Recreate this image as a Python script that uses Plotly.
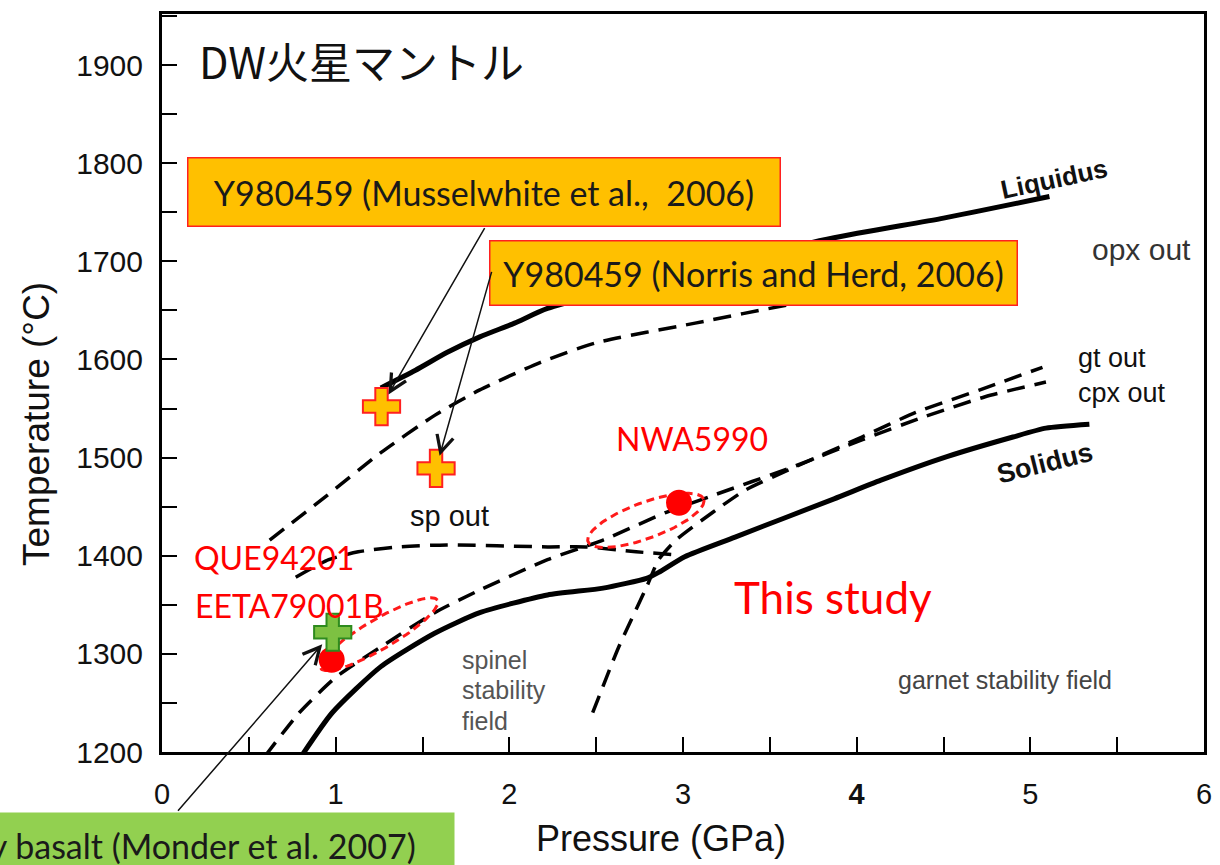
import numpy as np
import plotly.graph_objects as go

# ---------------- data (Pressure in GPa, Temperature in °C) ----------------
solidus_p = [0.80, 0.98, 1.26, 1.57, 1.83, 2.22, 2.54, 2.79, 2.86, 3.01, 3.30, 3.87, 4.14, 4.52, 4.90, 5.09, 5.34]
solidus_t = [1195, 1240, 1287, 1321, 1342, 1360, 1367, 1377, 1383, 1399, 1419, 1458, 1477, 1501, 1521, 1530, 1534]

liquidus_p = [1.26, 1.46, 1.64, 1.83, 2.03, 2.22, 3.07, 3.87, 4.50, 5.11]
liquidus_t = [1571, 1589, 1607, 1623, 1637, 1652, 1691, 1724, 1744, 1766]

opx_out_p = [0.62, 0.94, 1.26, 1.57, 1.83, 2.18, 2.50, 3.07, 3.62, 4.21, 4.78]
opx_out_t = [1416, 1460, 1505, 1543, 1569, 1597, 1617, 1637, 1656, 1671, 1683]

sp_out_p = [0.77, 0.96, 1.13, 1.36, 1.64, 2.22, 2.44, 2.73, 2.96]
sp_out_t = [1378, 1396, 1404, 1409, 1411, 1409, 1409, 1404, 1401]

cpx_out_p = [0.59, 0.79, 1.00, 1.26, 1.57, 1.83, 2.22, 2.54, 2.90, 3.15, 3.64, 4.03, 4.38, 4.74, 5.09]
cpx_out_t = [1195, 1240, 1276, 1307, 1342, 1365, 1396, 1416, 1444, 1460, 1491, 1518, 1541, 1562, 1577]

gt_out_p = [2.48, 2.63, 2.79, 2.86, 2.96, 3.17, 3.36, 3.64, 4.03, 4.34, 4.71, 5.07]
gt_out_t = [1240, 1307, 1368, 1396, 1416, 1444, 1467, 1490, 1521, 1546, 1569, 1592]

# Samples
y98_names = ["Y980459 (Musselwhite et al.,  2006)", "Y980459 (Norris and Herd, 2006)"]
y98_p = [1.264, 1.578]
y98_t = [1552, 1489]

humphrey_name = "Humphrey basalt (Monder et al. 2007)"
humphrey_p = [0.983]
humphrey_t = [1322]

study_names = ["QUE94201 / EETA79001B", "NWA5990"]
study_p = [0.977, 2.977]
study_t = [1294, 1454]

# Ranges of this study (red dashed ellipses): centres
ell_center_p = [1.250, 2.786]
ell_center_t = [1320, 1436]

x_tick_vals = [0, 1, 2, 3, 4, 5, 6]
x_tick_text = ["0", "1", "2", "3", "<b>4</b>", "5", "6"]
y_tick_vals = [1200, 1300, 1400, 1500, 1600, 1700, 1800, 1900]

# ---------------- layout geometry ----------------
W, H = 1220, 865
ML, MR, MT, MB = 162, 8, 14, 113
XR = [0, 6]
YR = [1200, 1952]
PW, PH = W - ML - MR, H - MT - MB
px_per_p = PW / (XR[1] - XR[0])
px_per_t = PH / (YR[1] - YR[0])

def paper_x(px):
    return (px - ML) / PW

def paper_y(py):
    return (H - MB - py) / PH

ell_semi_a = [68, 62]   # px
ell_semi_b = [15, 18]   # px
ell_tilt = [30, 20]     # degrees

fig = go.Figure()

def boundary(p, t, dash, width):
    fig.add_trace(go.Scatter(
        x=p, y=t, mode="lines",
        line=dict(color="black", width=width, dash=dash, shape="spline", smoothing=0.6),
        hoverinfo="skip", showlegend=False))

boundary(opx_out_p, opx_out_t, "18px,10px", 3.5)
boundary(sp_out_p, sp_out_t, "18px,10px", 3.5)
boundary(cpx_out_p, cpx_out_t, "18px,10px", 3.5)
boundary(gt_out_p, gt_out_t, "18px,10px", 3.5)
boundary(solidus_p, solidus_t, "solid", 5)
boundary(liquidus_p, liquidus_t, "solid", 5)

# ellipses (red dashed)
tt = np.linspace(0, 2 * np.pi, 120)
for cp, ct, a, b, ang in zip(ell_center_p, ell_center_t, ell_semi_a, ell_semi_b, ell_tilt):
    th = np.deg2rad(ang)
    dx = a * np.cos(tt) * np.cos(th) - b * np.sin(tt) * np.sin(th)
    dy = a * np.cos(tt) * np.sin(th) + b * np.sin(tt) * np.cos(th)
    fig.add_trace(go.Scatter(
        x=cp + dx / px_per_p, y=ct + dy / px_per_t, mode="lines",
        line=dict(color="#FF1A1A", width=3, dash="8px,5px"),
        hoverinfo="skip", showlegend=False))

# study points
fig.add_trace(go.Scatter(
    x=study_p, y=study_t, mode="markers",
    marker=dict(symbol="circle", size=26, color="#FF0000", line=dict(width=0)),
    showlegend=False, hovertext=study_names))

# Y980459 crosses
fig.add_trace(go.Scatter(
    x=y98_p, y=y98_t, mode="markers",
    marker=dict(symbol="cross", size=31, color="#FFC000", line=dict(color="#FF2020", width=2)),
    showlegend=False, hovertext=y98_names))

# Humphrey cross
fig.add_trace(go.Scatter(
    x=humphrey_p, y=humphrey_t, mode="markers",
    marker=dict(symbol="cross", size=31, color="#7DC142", line=dict(color="#2E8B1E", width=2)),
    showlegend=False, hovertext=[humphrey_name]))

ann = []

def ptxt(px, py, text, size, color="black", family="Liberation Sans", angle=0, xanchor="center", **kw):
    ann.append(dict(x=paper_x(px), y=paper_y(py), xref="paper", yref="paper", text=text, showarrow=False,
                    font=dict(family=family, size=size, color=color),
                    textangle=angle, xanchor=xanchor, yanchor="middle", **kw))

# phase-boundary labels
ptxt(1061, 179, "<b>Liquidus</b>", 26, "#111", angle=-12)
ptxt(1052, 463, "<b>Solidus</b>", 27, "#111", angle=-14)
ptxt(1149, 250, "opx out", 30, "#333")
ptxt(1083, 375, "gt out<br>cpx out", 27, "#111", xanchor="left", align="left")
ptxt(452, 516, "sp out", 29, "#111")
ptxt(462, 660, "spinel", 25, "#555", xanchor="left")
ptxt(462, 690, "stability", 25, "#555", xanchor="left")
ptxt(462, 721, "field", 25, "#555", xanchor="left")
ptxt(1011, 680, "garnet stability field", 25, "#444")

# red sample labels
ptxt(696, 438, "NWA5990", 32, "#FF0000", family="Lato")
ptxt(275, 557, "QUE94201", 32, "#FF0000", family="Lato")
ptxt(290, 605, "EETA79001B", 32, "#FF0000", family="Lato")
ptxt(838, 597, "This study", 44, "#FF0000", family="Lato")

# title
ptxt(197, 60, "DW火星マントル", 43, "#111", family="Noto Sans CJK JP", xanchor="left")

# axis titles
ptxt(665, 838, "Pressure (GPa)", 36, "#111")
ptxt(35, 424, "Temperature (°C)", 37, "#111", angle=-90)

# reference boxes
box_font = dict(family="Lato", size=34, color="#1a1a1a")
ann.append(dict(x=paper_x(486.5), y=paper_y(191.5), xref="paper", yref="paper",
                text=y98_names[0].replace("  ", " &nbsp;"), showarrow=False, xanchor="center", yanchor="middle",
                width=591, height=67, bgcolor="#FFC000", bordercolor="#FF2020", borderwidth=1.5, borderpad=0,
                font=box_font))
ann.append(dict(x=paper_x(758), y=paper_y(272.5), xref="paper", yref="paper",
                text=y98_names[1], showarrow=False, xanchor="center", yanchor="middle",
                width=526, height=63, bgcolor="#FFC000", bordercolor="#FF2020", borderwidth=1.5, borderpad=0,
                font=box_font))
ann.append(dict(x=paper_x(457), y=paper_y(812), xref="paper", yref="paper",
                text=humphrey_name + "&nbsp;&nbsp;&nbsp;", showarrow=False, xanchor="right", yanchor="top",
                bgcolor="#92D050", borderpad=12, font=box_font))

# arrows from the reference boxes to their points
arrow_style = dict(showarrow=True, text="", arrowhead=5, arrowsize=2.2, arrowwidth=1.5, arrowcolor="#111",
                   xref="x", yref="y")
ann.append(dict(x=y98_p[0], y=y98_t[0], ax=104, ay=-180, standoff=14, **arrow_style))
ann.append(dict(x=y98_p[1], y=y98_t[1], ax=56, ay=-198, standoff=13, **arrow_style))
ann.append(dict(x=humphrey_p[0], y=humphrey_t[0], ax=-156, ay=180, standoff=16, **arrow_style))

axis_common = dict(showgrid=False, zeroline=False, showline=True, linecolor="black", linewidth=3,
                   mirror=True, ticks="inside", ticklen=15, tickwidth=2, tickcolor="black")

fig.update_layout(
    width=W, height=H,
    margin=dict(l=ML, r=MR, t=MT, b=MB),
    paper_bgcolor="white", plot_bgcolor="white",
    showlegend=False,
    xaxis=dict(range=XR, tickvals=x_tick_vals, ticktext=x_tick_text,
               tickfont=dict(family="Liberation Sans", size=29, color="#111"), ticklabelstandoff=14,
               minor=dict(dtick=0.5, ticks="inside", ticklen=15, tickwidth=2, tickcolor="black"),
               **axis_common),
    yaxis=dict(range=YR, tickvals=y_tick_vals,
               tickfont=dict(family="Liberation Sans", size=30, color="#111"), ticklabelstandoff=10,
               minor=dict(dtick=50, ticks="inside", ticklen=15, tickwidth=2, tickcolor="black"),
               **axis_common),
    annotations=ann,
)

fig.write_html("out.html", config={"displayModeBar": False},
               post_script="document.body.style.margin='0';")
